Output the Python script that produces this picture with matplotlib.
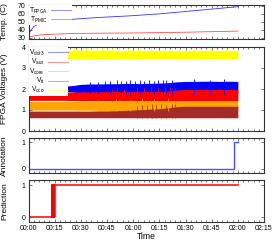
import matplotlib
matplotlib.use("Agg")
import matplotlib.pyplot as plt
from matplotlib.lines import Line2D
from matplotlib.ticker import FuncFormatter, MultipleLocator

plt.rcParams['font.family'] = ['Liberation Sans', 'DejaVu Sans']
plt.rcParams['mathtext.fontset'] = 'custom'
plt.rcParams['mathtext.rm'] = 'Liberation Sans'
plt.rcParams['mathtext.it'] = 'Liberation Sans'

# temperatures (minutes, deg C)
t_temp = [0, 1, 3, 7, 15, 27, 40, 58, 75, 90, 105, 120]
t_fpga = [34, 38, 44, 49, 51.5, 53.5, 55.5, 57.5, 60, 63, 66, 69]
t_pmic = [29.5, 31, 32.5, 33.7, 34.6, 35.5, 35.8, 36, 36.5, 37, 37.7, 38.4]

# voltage bands (min / max envelope every 5 min)
t_v = [0, 5, 10, 15, 20, 25, 30, 35, 40, 45, 50, 55, 60,
       65, 70, 75, 80, 85, 90, 95, 100, 105, 110, 115, 120]
ddr3_hi = [2.14, 2.14, 2.14, 2.14, 2.14, 2.16, 2.22, 2.24, 2.24, 2.25, 2.25, 2.26, 2.26,
           2.26, 2.27, 2.28, 2.30, 2.34, 2.36, 2.36, 2.37, 2.37, 2.36, 2.37, 2.36]
ddr3_lo = [1.90, 1.90, 1.90, 1.90, 1.90, 1.86, 1.80, 1.79, 1.79, 1.78, 1.78, 1.78, 1.78,
           1.78, 1.78, 1.78, 1.78, 1.78, 1.78, 1.78, 1.78, 1.78, 1.78, 1.78, 1.78]
aux_hi = [1.86, 1.86, 1.86, 1.86, 1.86, 1.86, 1.86, 1.87, 1.87, 1.88, 1.88, 1.88, 1.88,
          1.88, 1.88, 1.88, 1.90, 1.95, 1.98, 1.98, 1.98, 1.98, 1.98, 1.98, 1.98]
aux_lo = [1.46, 1.46, 1.46, 1.46, 1.46, 1.45, 1.44, 1.44, 1.44, 1.44, 1.44, 1.44, 1.44,
          1.44, 1.44, 1.44, 1.44, 1.44, 1.44, 1.44, 1.44, 1.44, 1.44, 1.44, 1.44]
core_hi = [1.40, 1.40, 1.40, 1.40, 1.40, 1.40, 1.40, 1.40, 1.40, 1.40, 1.40, 1.41, 1.42,
           1.42, 1.43, 1.43, 1.44, 1.45, 1.45, 1.45, 1.45, 1.45, 1.45, 1.45, 1.45]
core_lo = [1.00, 1.00, 1.00, 1.00, 1.00, 1.00, 0.99, 0.99, 0.98, 0.98, 0.97, 0.97, 0.96,
           0.96, 0.96, 0.95, 0.95, 0.95, 0.95, 0.95, 0.95, 0.95, 0.95, 0.95, 0.95]
tt_hi = [0.95, 0.95, 0.95, 0.95, 0.95, 0.95, 0.95, 0.95, 0.96, 0.96, 0.97, 0.98, 1.00,
         1.02, 1.04, 1.06, 1.10, 1.16, 1.18, 1.18, 1.18, 1.18, 1.18, 1.18, 1.18]
tt_lo = [0.63, 0.63, 0.63, 0.63, 0.63, 0.63, 0.63, 0.63, 0.63, 0.63, 0.63, 0.63, 0.63,
         0.63, 0.63, 0.63, 0.63, 0.63, 0.63, 0.63, 0.63, 0.63, 0.63, 0.63, 0.63]
cco_hi = [3.82, 3.82, 3.82, 3.82, 3.82, 3.85, 3.85, 3.85, 3.85, 3.85, 3.84, 3.84, 3.84,
          3.84, 3.84, 3.84, 3.84, 3.84, 3.84, 3.84, 3.84, 3.84, 3.84, 3.84, 3.84]
cco_lo = [3.42, 3.42, 3.42, 3.42, 3.42, 3.44, 3.45, 3.45, 3.45, 3.45, 3.45, 3.45, 3.45,
          3.45, 3.45, 3.45, 3.45, 3.45, 3.45, 3.45, 3.45, 3.45, 3.45, 3.45, 3.45]

# individual spikes (time, peak)
ddr3_sp_t = [35.5, 40, 44, 47, 51, 53, 56, 58, 61, 64, 66, 69, 72, 74, 77, 79, 82, 95, 104, 112]
ddr3_sp_v = [2.35, 2.35, 2.40, 2.38, 2.42, 2.36, 2.40, 2.44, 2.38, 2.42, 2.40, 2.43,
             2.38, 2.44, 2.41, 2.45, 2.43, 2.46, 2.45, 2.46]
aux_sp_t = [48, 51, 55, 62, 66, 70, 74, 78, 81, 84]
aux_sp_v = [2.02, 2.06, 2.00, 2.08, 2.04, 2.10, 2.06, 2.08, 2.10, 2.06]
core_sp_t = [40, 50, 58, 65, 72, 80]
core_sp_v = [1.50, 1.52, 1.50, 1.55, 1.52, 1.55]
tt_sp_t = [62, 65, 68, 71, 73, 76, 79, 82, 84]
tt_sp_v = [1.20, 1.25, 1.22, 1.28, 1.24, 1.30, 1.26, 1.28, 1.30]
cco_sp_t = [26, 28, 31, 33, 36, 39, 42, 45, 48, 52, 57, 63, 70, 78, 86, 95, 104, 113]
cco_sp_v = [4.0, 4.0, 3.98, 4.0, 3.96, 4.0, 3.98, 3.95, 3.97, 3.96, 3.95, 3.94,
            3.95, 3.93, 3.94, 3.92, 3.93, 3.92]

# annotation / prediction steps
ann_t = [0, 118, 120]
ann_v = [0, 1, 1]
pred_t = [0, 13.3, 13.6, 13.9, 14.2, 14.5, 14.8, 15.0, 120]
pred_v = [0, 1, 0, 1, 0, 1, 0, 1, 1]

W, H = 274, 240
fig = plt.figure(figsize=(W / 100, H / 100), dpi=100)
L, R = 28.5 / W, 264 / W


def box(top, bot):
    return [L, 1 - bot / H, R - L, (bot - top) / H]


ax1 = fig.add_axes(box(4.7, 39))
ax2 = fig.add_axes(box(47, 131))
ax3 = fig.add_axes(box(138, 173))
ax4 = fig.add_axes(box(180, 222))
axes = [ax1, ax2, ax3, ax4]

fs = 5
hm = lambda x, pos: "%02d:%02d" % (int(x) // 60, int(x) % 60)
leg_kw = dict(loc="upper left", fontsize=4.8, markerfirst=False, handlelength=3.0,
              handletextpad=0.5, borderaxespad=0.05, borderpad=0.05, labelspacing=-0.12,
              fancybox=False, framealpha=1, edgecolor="none", facecolor="white")

for ax in axes:
    ax.set_xlim(0, 135)
    ax.xaxis.set_major_locator(MultipleLocator(15))
    ax.xaxis.set_minor_locator(MultipleLocator(3))
    ax.tick_params(which="both", direction="in", top=True, right=True,
                   labelsize=fs, width=0.5, colors="#444444", labelcolor="black", pad=2)
    ax.tick_params(which="major", length=2.5)
    ax.tick_params(which="minor", length=1.5)
    for s in ax.spines.values():
        s.set_linewidth(0.8)
        s.set_color("#333333")
    ax.yaxis.set_label_coords(-0.085, 0.5)
    if ax is not ax4:
        ax.tick_params(labelbottom=False)
ax4.xaxis.set_major_formatter(FuncFormatter(hm))

# temperature
ax1.plot(t_temp, t_fpga, color="blue", lw=0.6, alpha=0.8)
ax1.plot(t_temp, t_pmic, color="red", lw=0.6, alpha=0.7)
ax1.set_ylim(28.5, 71.5)
ax1.set_yticks([30, 40, 50, 60, 70])
ax1.set_ylabel("Temp. (C)", fontsize=6)
ax1.legend([Line2D([], [], color="blue", lw=0.6, alpha=0.5),
            Line2D([], [], color="red", lw=0.6, alpha=0.5)],
           ["T$_{FPGA}$", "T$_{PMIC}$"], **leg_kw)

# voltages
bands = [(ddr3_lo, ddr3_hi, ddr3_sp_t, ddr3_sp_v, "blue", "V$_{ddr3}$"),
         (aux_lo, aux_hi, aux_sp_t, aux_sp_v, "red", "V$_{aux}$"),
         (core_lo, core_hi, core_sp_t, core_sp_v, "orange", "V$_{core}$"),
         (tt_lo, tt_hi, tt_sp_t, tt_sp_v, "brown", "V$_{tt}$"),
         (cco_lo, cco_hi, cco_sp_t, cco_sp_v, "yellow", "V$_{cco}$")]
handles = []
for lo, hi, st, sv, c, name in bands:
    ax2.fill_between(t_v, lo, hi, color=c, lw=0)
    base = [lo[min(int(x // 5), 24)] for x in st]
    ax2.vlines(st, base, sv, color=c, lw=0.6)
    handles.append(Line2D([], [], color=c, lw=0.6, alpha=0.5))
ax2.set_ylim(0, 4)
ax2.set_yticks([0, 1, 2, 3, 4])
ax2.set_ylabel("FPGA Voltages (V)", fontsize=6)
ax2.legend(handles, [b[5] for b in bands], **leg_kw)

# annotation
ax3.step(ann_t, ann_v, where="post", color="#5050ff", lw=1.0)
ax3.set_ylim(-0.15, 1.15)
ax3.set_yticks([0, 1])
ax3.set_ylabel("Annotation", fontsize=6)

# prediction
ax4.step(pred_t, pred_v, where="post", color="red", lw=1.1)
ax4.set_ylim(-0.15, 1.17)
ax4.set_yticks([0, 1])
ax4.set_ylabel("Prediction", fontsize=6)
ax4.set_xlabel("Time", fontsize=6.2, labelpad=0)

fig.savefig("out.png", dpi=100)
